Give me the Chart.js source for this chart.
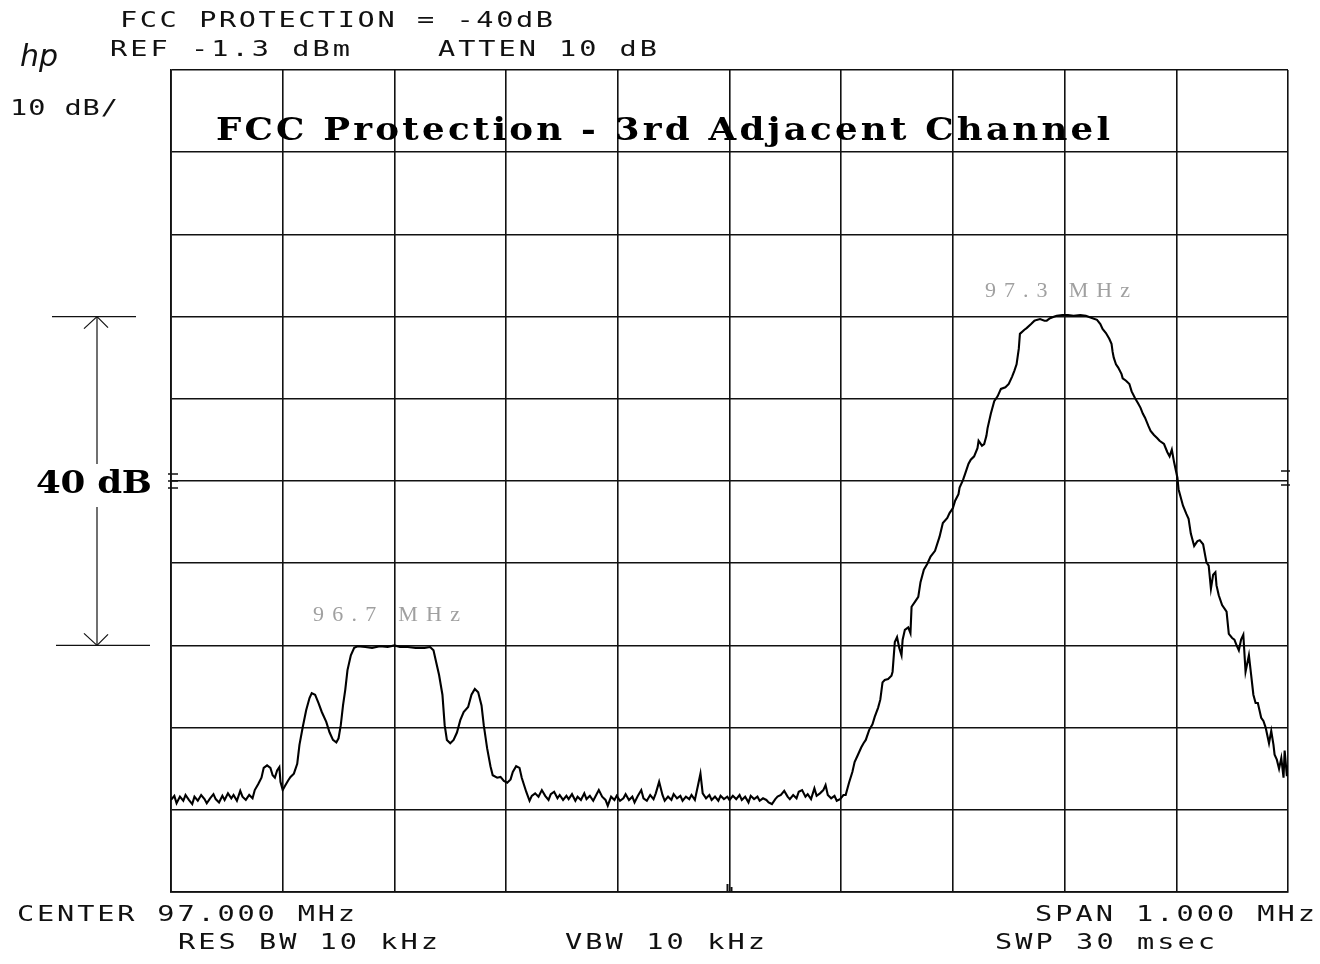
<!DOCTYPE html>
<html><head><meta charset="utf-8">
<script src="https://cdn.jsdelivr.net/npm/chart.js@4.4.1/dist/chart.umd.min.js"></script>
<style>
html,body{margin:0;padding:0;background:#fff;}
#wrap{position:relative;width:1320px;height:964px;overflow:hidden;background:#fff;}
#c{position:absolute;left:0;top:0;}
.t{position:absolute;white-space:pre;line-height:1;color:#111;transform-origin:0 0;}
.plot{font-family:"DejaVu Sans Mono",monospace;font-size:22px;}
.title{font-family:"DejaVu Serif",serif;font-weight:bold;font-size:31px;color:#000;}
.mk{font-family:"Liberation Serif",serif;font-size:22px;color:#a0a0a0;}
.hp{font-family:"DejaVu Sans",sans-serif;font-style:italic;font-weight:200;font-size:30px;}
</style></head><body>
<div id="wrap"><canvas id="c" width="1320" height="964"></canvas></div>
<script>
// ---- data ----
const freqMHz = [
96.500,96.503,96.505,96.508,96.511,96.513,96.516,96.519,96.521,96.524,
96.527,96.530,96.532,96.535,96.538,96.540,96.543,96.546,96.548,96.551,
96.554,96.556,96.559,96.562,96.564,96.567,96.570,96.573,96.575,96.578,
96.581,96.583,96.586,96.589,96.591,96.593,96.595,96.597,96.598,96.600,
96.602,96.605,96.607,96.610,96.613,96.615,96.618,96.621,96.624,96.626,
96.629,96.632,96.635,96.639,96.642,96.645,96.648,96.650,96.652,96.654,
96.656,96.658,96.661,96.664,96.667,96.674,96.680,96.687,96.694,96.700,
96.705,96.712,96.719,96.727,96.732,96.735,96.737,96.740,96.743,96.745,
96.747,96.750,96.753,96.756,96.759,96.762,96.766,96.769,96.772,96.775,
96.778,96.780,96.783,96.786,96.788,96.792,96.795,96.798,96.801,96.804,
96.806,96.809,96.812,96.814,96.818,96.821,96.823,96.826,
96.829,96.832,96.835,96.838,96.840,96.843,96.846,96.848,96.851,96.854,
96.856,96.859,96.862,96.864,96.867,96.870,96.872,96.875,96.878,96.881,
96.883,96.886,96.889,96.891,96.894,96.897,96.899,96.902,96.905,96.907,
96.910,96.913,96.915,96.918,96.921,96.923,96.926,96.929,96.932,96.934,
96.937,96.940,96.942,96.945,96.948,96.950,96.953,96.956,96.958,96.961,
96.964,96.966,96.969,96.972,96.974,96.976,96.979,96.982,96.984,96.987,
96.990,96.992,96.995,96.998,97.000,97.003,97.006,97.009,97.011,97.014,
97.017,97.019,97.022,97.025,97.027,97.030,97.033,97.035,97.038,97.041,
97.043,97.046,97.049,97.052,97.054,97.057,97.060,97.062,97.065,97.068,
97.070,97.073,97.076,97.078,97.081,97.084,97.086,97.088,97.091,97.094,
97.096,97.099,97.102,
97.104,97.107,97.110,97.112,97.115,97.118,97.120,97.122,97.125,97.128,
97.130,97.133,97.135,97.137,97.139,97.142,97.145,97.146,97.148,97.150,
97.152,97.154,97.155,97.157,97.160,97.162,97.163,97.166,97.169,97.171,
97.174,97.177,97.180,97.184,97.188,97.191,97.195,97.197,97.200,97.202,
97.205,97.206,97.209,97.211,97.214,97.216,97.219,97.222,97.223,97.226,
97.228,97.230,97.231,97.234,97.237,97.240,97.243,97.247,97.250,97.253,
97.255,97.257,97.259,97.260,97.264,97.266,97.270,97.273,97.275,97.278,
97.282,97.284,97.287,97.291,97.293,97.298,97.303,97.308,97.314,97.319,
97.325,97.329,97.332,97.334,97.337,97.340,97.342,97.343,97.344,97.346,
97.348,97.351,97.352,97.355,97.358,97.360,97.363,97.366,97.368,97.370,
97.372,97.375,97.377,97.380,97.383,97.385,97.389,97.392,97.394,97.396,
97.398,97.401,97.402,97.406,97.409,97.411,97.413,97.416,97.418,97.419,
97.421,97.424,97.427,97.429,97.431,97.433,97.435,97.436,97.438,97.441,
97.445,97.447,97.450,97.452,97.454,97.456,97.458,97.460,97.462,97.465,
97.467,97.469,97.471,97.473,97.476,97.478,97.480,97.483,97.485,97.487,
97.488,97.490,97.492,97.494,97.496,97.497,97.499,97.500
];
const levelDbm = [
-90.1,-89.6,-90.5,-89.7,-90.2,-89.5,-90.1,-90.6,-89.7,-90.2,
-89.5,-90.0,-90.5,-89.9,-89.4,-90.0,-90.4,-89.6,-90.1,-89.3,
-89.9,-89.5,-90.2,-89.0,-89.7,-90.1,-89.5,-89.9,-88.9,-88.2,
-87.4,-86.2,-85.9,-86.2,-87.1,-87.4,-86.5,-86.1,-87.9,-88.9,
-88.4,-87.7,-87.3,-86.9,-85.7,-83.4,-81.2,-79.2,-77.7,-77.1,
-77.3,-78.3,-79.4,-80.6,-81.9,-82.8,-83.1,-82.6,-81.0,-78.6,
-76.7,-74.3,-72.5,-71.6,-71.4,-71.5,-71.6,-71.4,-71.5,-71.3,
-71.5,-71.5,-71.6,-71.6,-71.5,-71.9,-73.1,-74.9,-77.3,-81.0,
-82.8,-83.2,-82.8,-81.9,-80.4,-79.4,-78.8,-77.3,-76.6,-77.0,
-78.6,-81.0,-83.8,-86.0,-87.1,-87.4,-87.3,-87.8,-88.0,-87.6,
-86.7,-86.0,-86.2,-87.4,-89.1,-90.2,-89.6,-89.3,
-89.7,-88.9,-89.6,-90.1,-89.4,-89.1,-89.9,-89.5,-90.1,-89.6,
-90.0,-89.4,-90.2,-89.7,-90.1,-89.3,-90.0,-89.6,-90.2,-89.4,
-88.9,-89.7,-90.1,-90.8,-89.7,-90.1,-89.6,-90.2,-89.9,-89.4,
-90.1,-89.7,-90.4,-89.6,-88.9,-89.9,-90.2,-89.5,-90.0,-89.3,
-87.9,-89.5,-90.2,-89.7,-90.1,-89.4,-89.9,-89.6,-90.2,-89.7,
-90.0,-89.5,-90.1,-88.2,-86.9,-89.3,-89.9,-89.5,-90.1,-89.7,
-90.2,-89.6,-90.0,-89.7,-90.1,-89.6,-90.0,-89.5,-90.1,-89.7,
-90.4,-89.6,-90.0,-89.7,-90.2,-89.9,-90.1,-90.4,-90.6,-90.0,
-89.7,-89.5,-89.0,-89.7,-90.0,-89.5,-89.9,-89.1,-88.9,-89.7,
-89.4,-90.0,-88.7,-89.6,-89.3,-88.9,-88.3,-89.5,-89.9,-89.6,
-90.2,-90.0,-89.5,
-89.5,-88.0,-86.7,-85.5,-84.6,-83.7,-83.2,-82.8,-81.6,-80.9,
-80.0,-78.9,-77.9,-75.8,-75.5,-75.4,-75.0,-74.5,-70.9,-70.3,
-71.6,-72.5,-70.6,-69.4,-69.1,-69.8,-66.6,-66.0,-65.4,-63.6,
-62.1,-61.4,-60.5,-59.8,-58.1,-56.4,-55.8,-55.2,-54.6,-53.7,
-52.9,-52.1,-51.2,-50.4,-49.2,-48.7,-48.3,-47.3,-46.4,-47.0,
-46.8,-45.8,-44.9,-43.1,-41.6,-41.0,-40.1,-39.9,-39.5,-38.6,
-37.9,-37.1,-35.2,-33.4,-32.9,-32.7,-32.2,-31.8,-31.7,-31.6,
-31.8,-31.8,-31.5,-31.3,-31.2,-31.1,-31.1,-31.2,-31.1,-31.2,
-31.5,-31.7,-32.2,-32.8,-33.3,-34.0,-34.6,-35.6,-36.3,-37.1,
-37.5,-38.3,-38.8,-39.1,-39.5,-40.4,-41.2,-41.9,-42.4,-43.1,
-43.6,-44.6,-45.2,-45.7,-46.1,-46.4,-46.8,-47.8,-48.3,-47.5,
-49.0,-50.9,-52.3,-54.3,-55.3,-55.9,-57.7,-59.2,-58.8,-58.6,
-58.5,-59.0,-61.2,-61.6,-64.4,-62.7,-62.4,-64.0,-65.2,-66.4,
-67.2,-69.9,-70.4,-70.6,-71.3,-71.9,-70.6,-70.0,-74.5,-72.5,
-74.9,-77.3,-78.3,-78.3,-80.1,-80.5,-81.3,-83.2,-81.7,-83.4,
-84.6,-85.2,-86.3,-85.0,-87.4,-84.1,-87.2,-85.9
];
// grid (analyzer divisions): center 97.000 MHz, span 1 MHz; ref -1.3 dBm, 10 dB/div
const xGridMHz = [96.5,96.6,96.7,96.8,96.9,97.0,97.1,97.2,97.3,97.4,97.5];
const yGridDbm = [-101.3,-91.3,-81.3,-71.3,-61.3,-51.3,-41.3,-31.3,-21.3,-11.3,-1.3];
const markerFreqs = [96.7, 97.3];
const markerNames = ["96.7 MHz", "97.3 MHz"];
const dimTopDbm = -31.3, dimBottomDbm = -71.3, displayLineDbm = -51.3;

const points = freqMHz.map((f,i)=>({x:f, y:levelDbm[i]}));

function line(ctx,x1,y1,x2,y2){ctx.beginPath();ctx.moveTo(x1,y1);ctx.lineTo(x2,y2);ctx.stroke();}

const annot = {
  id:'annot',
  afterDraw(chart){
    const {ctx, scales:{x,y}, chartArea:a} = chart;
    ctx.save();
    ctx.strokeStyle='#111'; ctx.lineWidth=1.2;
    const yt=y.getPixelForValue(dimTopDbm), yb=y.getPixelForValue(dimBottomDbm), ym=y.getPixelForValue(displayLineDbm);
    const ax=97;
    line(ctx,52,yt,136,yt); line(ctx,56,yb,150,yb);
    line(ctx,ax,yt,ax,ym-17); line(ctx,ax,ym+26,ax,yb);
    line(ctx,ax-13,yt+12,ax,yt); line(ctx,ax,yt,ax+11,yt+11);
    line(ctx,ax-13,yb-12,ax,yb); line(ctx,ax,yb,ax+11,yb-11);
    ctx.lineWidth=1.5;
    [-7,0,7].forEach(d=>line(ctx,a.left-3,ym+d,a.left+7,ym+d));
    [-10,4].forEach(d=>line(ctx,a.right-7,ym+d,a.right+2,ym+d));
    const xc=x.getPixelForValue(97.0);
    ctx.lineWidth=2; line(ctx,xc-2,a.bottom,xc-2,a.bottom-8); line(ctx,xc+2,a.bottom,xc+2,a.bottom-5);
    ctx.restore();
  }
};

new Chart(document.getElementById('c'), {
  type:'line',
  data:{datasets:[{data:points, borderColor:'#000', borderWidth:2.1, pointRadius:0, tension:0, fill:false}]},
  options:{
    responsive:false, animation:false, devicePixelRatio:1,
    parsing:false, normalized:true,
    layout:{padding:{left:171,right:32,top:70,bottom:72}},
    plugins:{legend:{display:false}, tooltip:{enabled:false}, title:{display:false}},
    scales:{
      x:{type:'linear', min:96.5, max:97.5,
         afterBuildTicks:s=>{s.ticks=xGridMHz.map(v=>({value:v}));},
         ticks:{display:false}, grid:{color:'#111', lineWidth:1.6, drawTicks:false},
         border:{display:true,color:'#111',width:1.8}},
      y:{type:'linear', min:-101.3, max:-1.3,
         afterBuildTicks:s=>{s.ticks=yGridDbm.map(v=>({value:v}));},
         ticks:{display:false}, grid:{color:'#111', lineWidth:1.6, drawTicks:false},
         border:{display:true,color:'#111',width:1.8}}
    }
  },
  plugins:[annot]
});

// ---- text labels (HTML) ----
const wrap=document.getElementById('wrap');
const labels=[
  {t:"FCC PROTECTION = -40dB", c:"plot", l:120, b:28, w:433, k:1.3},
  {t:"REF -1.3 dBm", c:"plot", l:110, b:57, w:240, k:1.3},
  {t:"ATTEN 10 dB", c:"plot", l:438, b:57, w:219, k:1.3},
  {t:"10 dB/", c:"plot", l:10, b:116, w:108, k:1.3},
  {t:"hp", c:"hp", l:20, b:66},
  {t:"FCC Protection - 3rd Adjacent Channel", c:"title", l:216, b:140, w:894, k:1.15},
  {t:"40 dB", c:"title", l:36, b:493, w:116, k:1.15},
  {t:markerNames[0], c:"mk", l:313, b:622, w:147, k:1},
  {t:markerNames[1], c:"mk", l:985, b:298, w:145, k:1},
  {t:"CENTER 97.000 MHz", c:"plot", l:17, b:922, w:338, k:1.3},
  {t:"SPAN 1.000 MHz", c:"plot", l:1035, b:922, w:280, k:1.3},
  {t:"RES BW 10 kHz", c:"plot", l:178, b:950, w:260, k:1.3},
  {t:"VBW 10 kHz", c:"plot", l:565, b:950, w:200, k:1.3},
  {t:"SWP 30 msec", c:"plot", l:995, b:950, w:220, k:1.3}
];
labels.forEach(o=>{
  const d=document.createElement('div');
  d.className='t '+o.c; d.textContent=o.t; wrap.appendChild(d);
  const fs=parseFloat(getComputedStyle(d).fontSize);
  d.style.left=o.l+'px'; d.style.top=(o.b-0.845*fs)+'px';
  if(o.w){
    const k=o.k||1;
    const w0=d.getBoundingClientRect().width;
    const n=o.t.length;
    d.style.letterSpacing=((o.w/k-w0)/(n-1))+'px';
    d.style.transform='scaleX('+k+')';
  }
});
</script>
</body></html>
